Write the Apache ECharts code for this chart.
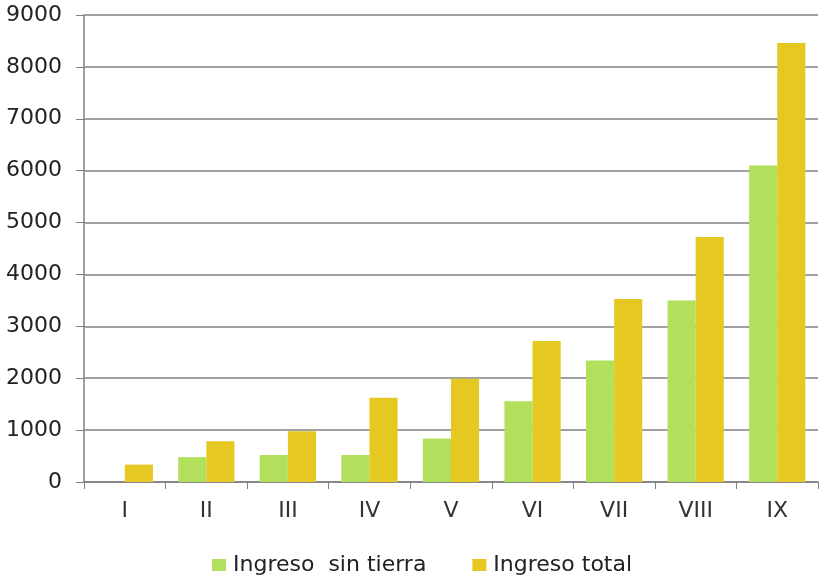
<!DOCTYPE html>
<html>
<head>
<meta charset="utf-8">
<script src="https://cdn.jsdelivr.net/npm/echarts@6/dist/echarts.min.js"></script>
<style>
  html, body { margin: 0; padding: 0; background: #fff; }
  #chart { width: 823px; height: 577px; }
</style>
</head>
<body>
<div id="chart"></div>
<script>
var categories = ['I', 'II', 'III', 'IV', 'V', 'VI', 'VII', 'VIII', 'IX'];
var sinTierra = [0, 480, 520, 520, 840, 1555, 2340, 3500, 6100];
var total = [335, 785, 980, 1625, 1990, 2715, 3525, 4720, 8460];
var yTicks = [0, 1000, 2000, 3000, 4000, 5000, 6000, 7000, 8000, 9000];

var font = 'DejaVu Sans';
var chart = echarts.init(document.getElementById('chart'));

chart.setOption({
    backgroundColor: '#fff',
    animation: false,
    grid: { left: 84, right: 5, top: 15, bottom: 95, containLabel: false },
    legend: {
        left: 212,
        top: 552,
        itemWidth: 14,
        itemHeight: 12,
        itemGap: 46,
        icon: 'rect',
        padding: 0,
        textStyle: { fontFamily: font, fontSize: 22, lineHeight: 26, color: '#222', padding: [0, 0, 0, 2] },
        data: ['Ingreso  sin tierra', 'Ingreso total']
    },
    xAxis: {
        type: 'category',
        data: categories,
        axisLine: { lineStyle: { color: '#808080', width: 1.5 } },
        axisTick: { show: true, length: 7, lineStyle: { color: '#808080' } },
        axisLabel: { fontFamily: font, fontSize: 22, color: '#333', margin: 18 }
    },
    yAxis: {
        type: 'value',
        min: yTicks[0],
        max: yTicks[yTicks.length - 1],
        interval: 1000,
        axisLine: { show: true, lineStyle: { color: '#808080', width: 1.5 } },
        axisTick: { show: true, length: 8, lineStyle: { color: '#808080' } },
        splitLine: { lineStyle: { color: '#808080', width: 1.5 } },
        axisLabel: {
            fontFamily: font, fontSize: 22, color: '#222', margin: 22,
            formatter: function (v) { return String(v); }
        }
    },
    series: [
        {
            name: 'Ingreso  sin tierra',
            type: 'bar',
            data: sinTierra,
            barGap: '0%',
            barCategoryGap: '31%',
            itemStyle: { color: '#b3e05c' }
        },
        {
            name: 'Ingreso total',
            type: 'bar',
            data: total,
            barGap: '0%',
            barCategoryGap: '31%',
            itemStyle: { color: '#e5c922' }
        }
    ]
});
</script>
</body>
</html>
